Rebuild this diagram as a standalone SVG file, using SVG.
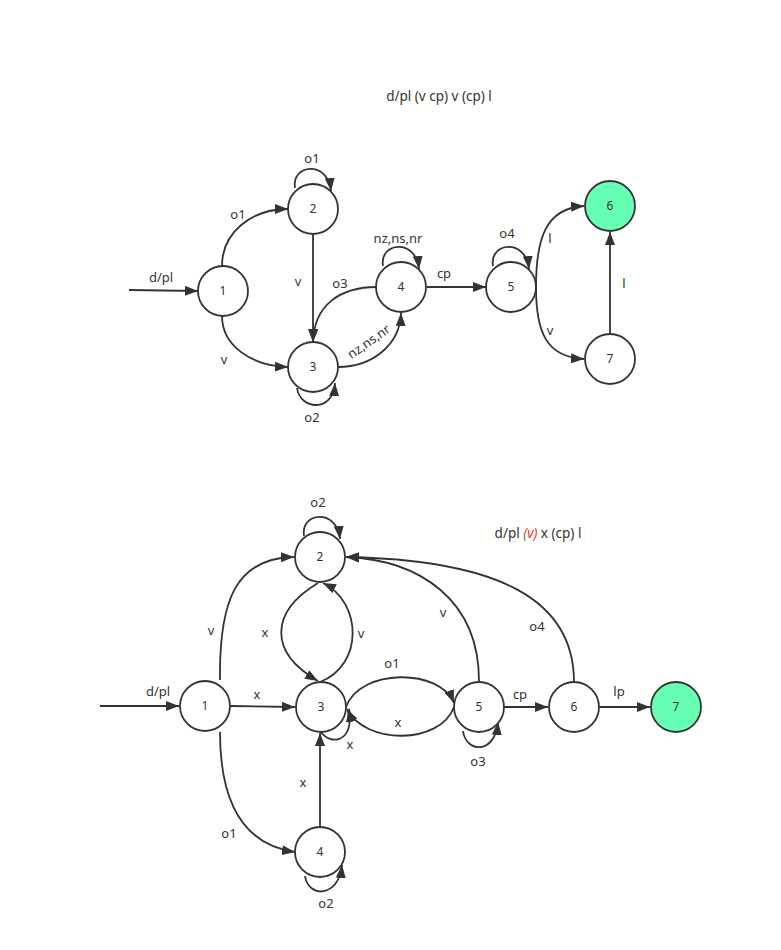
<svg xmlns="http://www.w3.org/2000/svg" width="781" height="950" viewBox="0 0 781 950">
<style>
.n circle{fill:#fff;stroke:#333;stroke-width:1.8}
.n.acc circle{fill:#66ffb3}
text{font-family:"Noto Sans","Liberation Sans",sans-serif;font-size:13px;fill:#333;text-anchor:middle}
.n text{font-size:12px}
.ttl{font-size:13.5px}
.e path{fill:none;stroke:#333;stroke-width:1.8;marker-end:url(#a)}
</style>
<defs>
<marker id="a" markerUnits="userSpaceOnUse" markerWidth="14" markerHeight="10" refX="13" refY="5" orient="auto">
<path d="M0,0 L13,5 L0,10 z" fill="#333"/>
</marker>
</defs>
<rect width="781" height="950" fill="#fff"/>
<text class="ttl" x="439" y="101">d/pl (v cp) v (cp) l</text>
<text class="ttl" x="538" y="538">d/pl <tspan fill="#e53333" font-style="italic">(v)</tspan> x (cp) l</text>
<g id="top-edges" class="e">
<path d="M129,290 L198,291"/>
<path d="M222,266 C222,232 252,209 288,209"/>
<path d="M222,316 C222,346 252,366 288,367"/>
<path d="M313,234 L313,342"/>
<path d="M377,287 C340,287 314,305 313,342"/>
<path d="M338,367 C372,367 400,345 401,313"/>
<path d="M295,188 C291,164 328,160 331,191"/>
<path d="M297,388 C300,410 333,413 335,383"/>
<path d="M383,266 C379,242 416,238 419,269"/>
<path d="M493,266 C489,242 526,238 529,269"/>
<path d="M427,287 L486,287"/>
<path d="M536,287 C536,240 545,208 584,206"/>
<path d="M536,287 C536,332 546,357 584,359"/>
<path d="M610,334 L610,232"/>
</g>
<g id="top-labels">
<text x="161" y="282">d/pl</text>
<text x="238" y="219">o1</text>
<text x="224" y="364">v</text>
<text x="298" y="286">v</text>
<text x="312" y="163">o1</text>
<text x="312" y="422">o2</text>
<text x="340" y="288">o3</text>
<text x="398" y="243">nz,ns,nr</text>
<text x="369" y="346" transform="rotate(-35 369 342)">nz,ns,nr</text>
<text x="444" y="278">cp</text>
<text x="507" y="238">o4</text>
<text x="550" y="243">l</text>
<text x="550" y="335">v</text>
<text x="624" y="288">l</text>
</g>
<g id="t1" class="n"><circle cx="223" cy="291" r="25"/><text x="223" y="295">1</text></g>
<g id="t2" class="n"><circle cx="313" cy="209" r="25"/><text x="313" y="213">2</text></g>
<g id="t3" class="n"><circle cx="313" cy="367" r="25"/><text x="313" y="371">3</text></g>
<g id="t4" class="n"><circle cx="401" cy="287" r="25"/><text x="401" y="291">4</text></g>
<g id="t5" class="n"><circle cx="511" cy="287" r="25"/><text x="511" y="291">5</text></g>
<g id="t6" class="n acc"><circle cx="610" cy="206" r="25"/><text x="610" y="210">6</text></g>
<g id="t7" class="n"><circle cx="610" cy="359" r="25"/><text x="610" y="363">7</text></g>

<g id="bottom-edges" class="e">
<path d="M100,706 L179,706"/>
<path d="M230,706 L295,707"/>
<path d="M220,680 C219,600 236,558 294,557"/>
<path d="M220,732 C220,805 245,845 295,852"/>
<path d="M318,583 C270,612 268,652 318,681"/>
<path d="M320,682 C364,665 362,602 323,583"/>
<path d="M304,536 C300,512 337,508 340,539"/>
<path d="M321,732 C330,745 354,744 349,709"/>
<path d="M346,707 C360,668 440,668 454,703"/>
<path d="M454,707 C440,745 365,745 347,709"/>
<path d="M463,731 C466,753 495,755 498,722"/>
<path d="M504,707 L548,707"/>
<path d="M599,707 L650,707"/>
<path d="M320,827 L320,733"/>
<path d="M305,876 C308,898 339,898 342,865"/>
<path d="M479,681 C479,600 420,560 346,557"/>
<path d="M574,682 C574,600 500,560 346,557"/>
</g>
<g id="bottom-labels">
<text x="158" y="696">d/pl</text>
<text x="257" y="699">x</text>
<text x="211" y="635">v</text>
<text x="229" y="838">o1</text>
<text x="265" y="637">x</text>
<text x="361" y="638">v</text>
<text x="318" y="507">o2</text>
<text x="350" y="749">x</text>
<text x="392" y="668">o1</text>
<text x="398" y="727">x</text>
<text x="478" y="766">o3</text>
<text x="520" y="699">cp</text>
<text x="619" y="696">lp</text>
<text x="303" y="787">x</text>
<text x="443" y="617">v</text>
<text x="537" y="631">o4</text>
<text x="326" y="908">o2</text>
</g>
<g id="b1" class="n"><circle cx="205" cy="706" r="25"/><text x="205" y="710">1</text></g>
<g id="b2" class="n"><circle cx="320" cy="557" r="25"/><text x="320" y="561">2</text></g>
<g id="b3" class="n"><circle cx="321" cy="707" r="25"/><text x="321" y="711">3</text></g>
<g id="b4" class="n"><circle cx="320" cy="852" r="25"/><text x="320" y="856">4</text></g>
<g id="b5" class="n"><circle cx="479" cy="707" r="25"/><text x="479" y="711">5</text></g>
<g id="b6" class="n"><circle cx="574" cy="707" r="25"/><text x="574" y="711">6</text></g>
<g id="b7" class="n acc"><circle cx="676" cy="707" r="25"/><text x="676" y="711">7</text></g>
</svg>
